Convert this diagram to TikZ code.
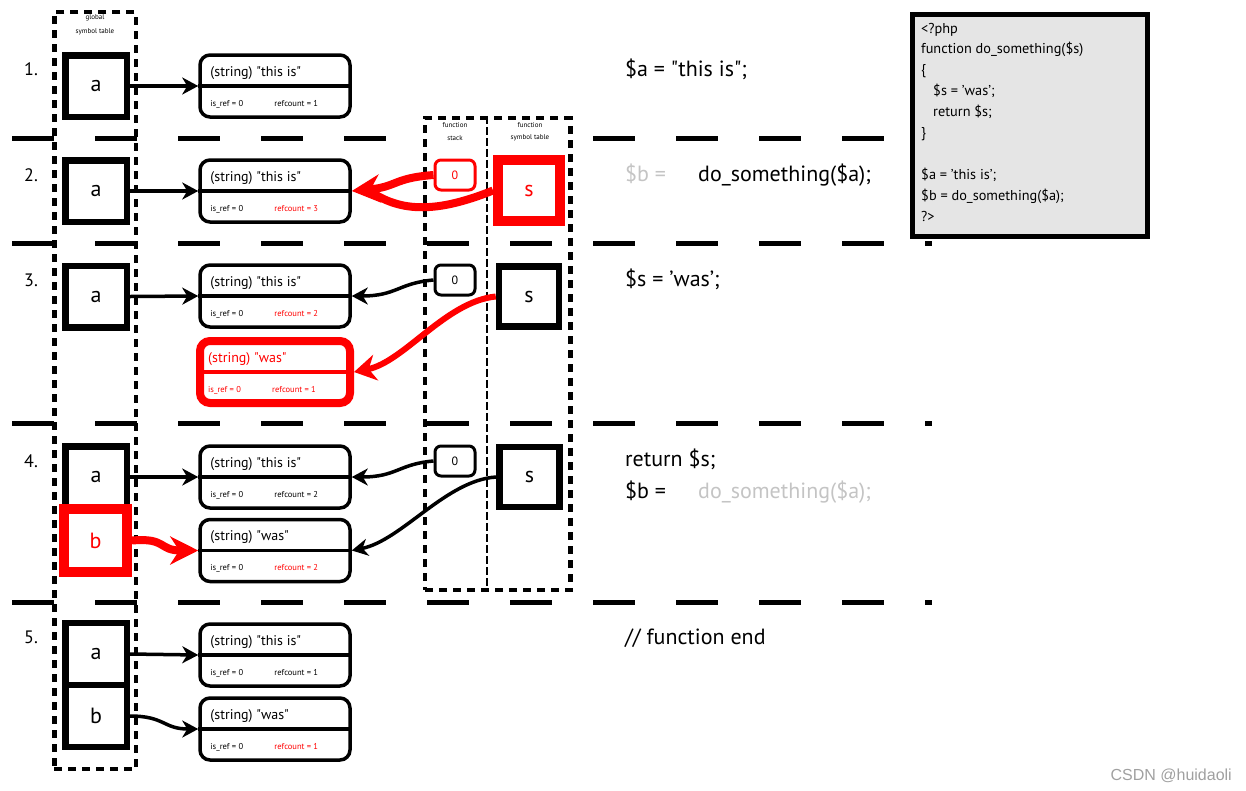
\documentclass[tikz,border=0pt]{standalone}
\usepackage{fontspec}
\setmainfont{PT Sans}[Ligatures=TeXOff]
\newfontfamily\wmfont{Liberation Sans}
\usetikzlibrary{arrows.meta,calc}
\definecolor{codegray}{HTML}{E5E5E5}
\definecolor{lgray}{HTML}{C4C4C4}
\definecolor{wmgray}{HTML}{A0A0A0}
\tikzset{
  sym/.style={draw, line width=6.5pt, minimum width=61.5pt, minimum height=61.5pt, inner sep=0pt, fill=white, font=\fontsize{22}{26}\selectfont},
  zv/.style={draw, rounded corners=10pt, minimum width=150pt, minimum height=62pt, inner sep=0pt},
  ztitle/.style={anchor=base west, inner sep=0pt, font=\fontsize{14}{16}\selectfont},
  zsmall/.style={anchor=base west, inner sep=0pt, font=\fontsize{8.5}{10}\selectfont},
  stk/.style={draw, line width=3pt, rounded corners=6pt, minimum width=40pt, minimum height=30pt, inner sep=0pt, fill=white, font=\fontsize{12}{14}\selectfont},
  arr/.style={line width=3.5pt, -{Stealth[length=16pt,width=17pt,inset=5pt]}},
  rarr/.style={draw=red, line width=8pt, -{Stealth[length=28pt,width=28pt,inset=9pt]}},
  rarrm/.style={draw=red, line width=6pt, -{Stealth[length=22pt,width=26pt,inset=7pt]}},
  sepline/.style={line width=5pt, dash pattern=on 42pt off 41pt},
  cont/.style={draw, line width=4.5pt, dash pattern=on 8pt off 6pt, inner sep=0pt},
  codetxt/.style={anchor=base west, inner sep=0pt, font=\fontsize{22}{26}\selectfont},
  boxtxt/.style={anchor=base west, inner sep=0pt, font=\fontsize{14.3}{16}\selectfont},
  rowlbl/.style={anchor=base west, inner sep=0pt, font=\fontsize{18}{22}\selectfont},
  hdr/.style={inner sep=0pt, font=\fontsize{7}{8}\selectfont},
}
% #1 name, #2 position, #3 frame colour, #4 frame width, #5 title colour,
% #6 title, #7 is_ref colour, #8 refcount colour, #9 refcount value
\newcommand\zvbox[9]{%
  \node[zv, draw=#3, line width=#4] (#1) at (#2) {};
  \draw[draw=#3, line width=3.5pt] (#1.west) -- (#1.east);
  \node[ztitle, text=#5] (#1t) at ($(#1.west)+(12,-10)$) {(string) "#6"};
  \node[zsmall, text=#7] (#1i) at ($(#1.west)+(12,20)$) {is\_ref = 0};
  \node[zsmall, text=#8] (#1r) at ($(#1.west)+(76,20)$) {refcount = #9};
}
\begin{document}
\begin{tikzpicture}[x=1pt, y=-1pt]
\useasboundingbox (0,0) rectangle (1246,790);

% first separator (hidden by the function boxes)
\draw[sepline] (12,138) -- (932,138);

% containers
\node[cont, minimum width=81.5pt, minimum height=757pt] (gst) at (95,390.5) {};
\node[hdr] (gsth1) at (95,18) {global};
\node[hdr] (gsth2) at (95,32) {symbol table};

\node[cont, fill=white, minimum width=145.5pt, minimum height=472pt] (fbox) at (497.75,354) {};
\draw[line width=2.5pt, dash pattern=on 8pt off 3pt] (fbox.north -| 487,0) -- (fbox.south -| 487,0);
\node[hdr] (fsh1) at (455,125) {function};
\node[hdr] (fsh2) at (455,138) {stack};
\node[hdr] (fth1) at (530,125) {function};
\node[hdr] (fth2) at (530,138) {symbol table};

% other separators
\draw[sepline] (12,243) -- (932,243);
\draw[sepline] (12,423) -- (932,423);
\draw[sepline] (12,602) -- (932,602);

% code box
\node[draw, line width=5pt, fill=codegray, minimum width=235pt, minimum height=222pt, anchor=north west, inner sep=0pt] (code) at (909.5,11.5) {};
\node[boxtxt] (c0) at (921,33) {<?php};
\node[boxtxt] (c1) at (921,53.9) {function do\_something(\$s)};
\node[boxtxt] (c2) at (921,74.8) {\{};
\node[boxtxt] (c3) at (933,95.7) {\$s = ’was’;};
\node[boxtxt] (c4) at (933,116.6) {return \$s;};
\node[boxtxt] (c5) at (921,137.5) {\}};
\node[boxtxt] (c7) at (921,179.3) {\$a = ’this is’;};
\node[boxtxt] (c8) at (921,200.2) {\$b = do\_something(\$a);};
\node[boxtxt] (c9) at (921,221.1) {?>};

% row labels
\node[rowlbl] (r1) at (24,75) {1.};
\node[rowlbl] (r2) at (24,181) {2.};
\node[rowlbl] (r3) at (24,286) {3.};
\node[rowlbl] (r4) at (24,467) {4.};
\node[rowlbl] (r5) at (24,643) {5.};

% right-hand code lines
\node[codetxt] (t1) at (625,76) {\$a = "this is";};
\node[codetxt, text=lgray] (t2a) at (625,181) {\$b =};
\node[codetxt] (t2b) at (698,181) {do\_something(\$a);};
\node[codetxt] (t3) at (625,286) {\$s = ’was’;};
\node[codetxt] (t4a) at (625,466) {return \$s;};
\node[codetxt] (t4b) at (625,498) {\$b =};
\node[codetxt, text=lgray] (t4c) at (698,498) {do\_something(\$a);};
\node[codetxt] (t5) at (625,644) {// function end};

% zvals
\zvbox{z1}{275,86}{black}{3.5pt}{black}{this is}{black}{black}{1}
\zvbox{z2}{275,191}{black}{3.5pt}{black}{this is}{black}{red}{3}
\zvbox{z3}{275,296}{black}{3.5pt}{black}{this is}{black}{red}{2}
\zvbox{zr}{275,372}{red}{8pt}{red}{was}{red}{red}{1}
\zvbox{z4}{275,477}{black}{3.5pt}{black}{this is}{black}{black}{2}
\zvbox{z4w}{275,550.5}{black}{3.5pt}{black}{was}{black}{red}{2}
\zvbox{z5}{275,655}{black}{3.5pt}{black}{this is}{black}{black}{1}
\zvbox{z5w}{275,729}{black}{3.5pt}{black}{was}{black}{red}{1}

% global symbol boxes
\node[sym] (a1) at (96,86) {a};
\node[sym] (a2) at (96,191) {a};
\node[sym] (a3) at (96,296.5) {a};
\node[sym] (a4) at (96,477) {a};
\node[sym, draw=red, text=red, line width=10pt, minimum width=63pt, minimum height=63pt] (b4) at (95.5,540.5) {b};
\node[sym, minimum height=62pt] (a5) at (96,654) {a};
\node[sym, minimum height=62pt] (b5) at (96,716) {b};

% function symbol boxes
\node[sym, draw=red, text=red, line width=10pt, minimum width=62pt, minimum height=61pt] (s2) at (529,190.5) {s};
\node[sym, minimum width=60pt, minimum height=60pt] (s3) at (529,296.5) {s};
\node[sym, minimum width=60pt, minimum height=60pt] (s4) at (529.5,477) {s};

% stack boxes
\node[stk, draw=red, text=red] (k2) at (455,175) {0};
\node[stk] (k3) at (455,280) {0};
\node[stk] (k4) at (455,461) {0};

% connectors
\draw[arr] (a1.east) -- (z1.west);
\draw[arr] (a2.east) -- (z2.west);
\draw[arr] (a3.east) -- (z3.west);
\draw[arr] (a4.east) -- (z4.west);
\draw[arr] (a5.east) -- (z5.west);
\draw[arr] (b5.east) .. controls ($(b5.east)+(35,0)$) and ($(z5w.west)+(-35,0)$) .. (z5w.west);

\draw[red, line width=8pt] (s2.west) .. controls ($(s2.west)+(-55,22)$) and ($(z2.east)+(50,22)$) .. ($(z2.east)+(18,0)$);
\draw[rarr] (k2.west) .. controls ($(k2.west)+(-40,3)$) and ($(z2.east)+(45,-4)$) .. (z2.east);

\draw[arr] (k3.west) .. controls ($(k3.west)+(-35,3)$) and ($(z3.east)+(45,0)$) .. (z3.east);
\draw[rarrm] (s3.west) .. controls ($(s3.west)+(-50,5)$) and ($(zr.east)+(50,-10)$) .. (zr.east);

\draw[arr] (k4.west) .. controls ($(k4.west)+(-35,3)$) and ($(z4.east)+(45,0)$) .. (z4.east);
\draw[arr] (s4.west) .. controls ($(s4.west)+(-50,3)$) and ($(z4w.east)+(50,-10)$) .. (z4w.east);
\draw[rarr] (b4.east) .. controls ($(b4.east)+(35,-3)$) and ($(z4w.west)+(-40,0)$) .. (z4w.west);

% watermark
\node[anchor=base east, inner sep=0pt, text=wmgray, font=\wmfont\fontsize{16}{18}\selectfont] (wm) at (1232,780) {CSDN @huidaoli};
\end{tikzpicture}
\end{document}
